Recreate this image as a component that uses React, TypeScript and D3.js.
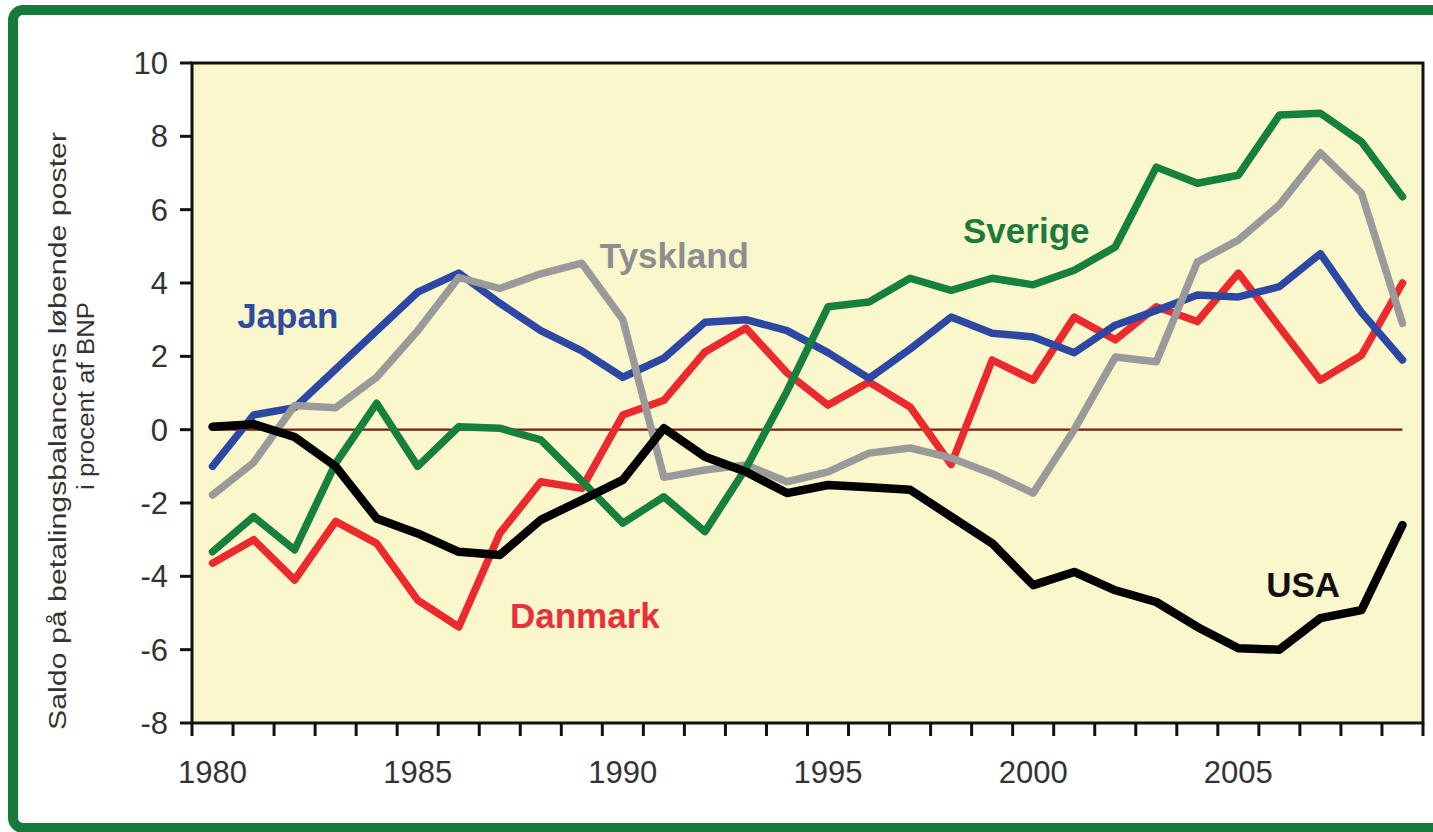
import * as d3 from "d3";

const years = [
  1980, 1981, 1982, 1983, 1984, 1985, 1986, 1987, 1988, 1989,
  1990, 1991, 1992, 1993, 1994, 1995, 1996, 1997, 1998, 1999,
  2000, 2001, 2002, 2003, 2004, 2005, 2006, 2007, 2008, 2009,
];
const yearLabels = [1980, 1985, 1990, 1995, 2000, 2005];
const yTicks = [-8, -6, -4, -2, 0, 2, 4, 6, 8, 10];

const danmark = [
  -3.64, -3.0, -4.1, -2.5, -3.1, -4.65, -5.38, -2.83, -1.42, -1.6,
  0.4, 0.8, 2.12, 2.77, 1.55, 0.67, 1.3, 0.62, -0.95, 1.9,
  1.35, 3.07, 2.45, 3.35, 2.95, 4.27, 2.8, 1.35, 2.03, 4.0,
];
const japan = [
  -1.0, 0.4, 0.6, 1.65, 2.7, 3.75, 4.27, 3.45, 2.7, 2.15,
  1.43, 1.95, 2.93, 3.0, 2.7, 2.1, 1.4, 2.2, 3.07, 2.63,
  2.53, 2.1, 2.85, 3.25, 3.67, 3.62, 3.9, 4.8, 3.2, 1.9,
];
const tyskland = [
  -1.78, -0.9, 0.66, 0.6, 1.43, 2.7, 4.15, 3.85, 4.25, 4.54,
  3.0, -1.3, -1.1, -0.96, -1.42, -1.15, -0.64, -0.5, -0.77, -1.2,
  -1.73, 0.0, 1.98, 1.85, 4.57, 5.17, 6.13, 7.55, 6.45, 2.9,
];
const sverige = [
  -3.33, -2.37, -3.28, -0.92, 0.72, -1.0, 0.08, 0.04, -0.28, -1.4,
  -2.55, -1.83, -2.78, -1.05, 1.05, 3.35, 3.48, 4.13, 3.8, 4.13,
  3.95, 4.35, 4.98, 7.16, 6.72, 6.94, 8.58, 8.63, 7.85, 6.35,
];
const usa = [
  0.08, 0.15, -0.2, -1.0, -2.42, -2.83, -3.33, -3.42, -2.46, -1.92,
  -1.37, 0.04, -0.74, -1.15, -1.73, -1.51, -1.57, -1.64, -2.37, -3.1,
  -4.24, -3.88, -4.38, -4.7, -5.38, -5.96, -6.0, -5.14, -4.92, -2.6,
];
const zeroLine = years.map(() => 0);

const series = [
  { name: "Danmark", values: danmark, color: "#ec2a2e", width: 7.5 },
  { name: "Japan", values: japan, color: "#2c48a4", width: 7.5 },
  { name: "Tyskland", values: tyskland, color: "#9a9a9a", width: 7.5 },
  { name: "Sverige", values: sverige, color: "#16803c", width: 7.5 },
  { name: "USA", values: usa, color: "#000000", width: 8.5 },
];

// label anchors (year, value) for the inline series names
const seriesLabels = [
  { text: "Japan", year: 1980.6, value: 2.77, color: "#2f4c9f" },
  { text: "Tyskland", year: 1989.44, value: 4.4, color: "#8e8e8e" },
  { text: "Sverige", year: 1998.29, value: 5.1, color: "#1c7b3c" },
  { text: "Danmark", year: 1987.25, value: -5.41, color: "#e8303a" },
  { text: "USA", year: 2005.68, value: -4.57, color: "#111111" },
];

const W = 1433;
const H = 832;
const left = 192;
const right = 1423;
const top = 63;
const bottom = 723;

export default function App() {
  const x = d3.scaleBand<number>().domain(years).range([left, right]).padding(0);
  const bw = x.bandwidth();
  const cx = (yr: number) => x(yr)! + bw / 2;
  const xYear = d3
    .scaleLinear()
    .domain([years[0], years[years.length - 1]])
    .range([cx(years[0]), cx(years[years.length - 1])]);
  const y = d3.scaleLinear().domain([-8, 10]).range([bottom, top]);

  const line = d3
    .line<number>()
    .x((d, i) => cx(years[i]))
    .y((d) => y(d));

  const font = "'Liberation Sans', Arial, sans-serif";

  return (
    <svg
      width={W}
      height={H}
      style={{ position: "absolute", left: 0, top: 0, background: "#fff" }}
      fontFamily={font}
    >
      {/* green frame */}
      <rect
        x={13}
        y={10}
        width={1460}
        height={818}
        rx={10}
        fill="none"
        stroke="#167a3b"
        strokeWidth={10}
      />

      {/* plot area */}
      <rect
        x={left}
        y={top}
        width={right - left}
        height={bottom - top}
        fill="#fbf7cd"
      />

      <path d={line(zeroLine)!} fill="none" stroke="#7a1c10" strokeWidth={2.2} />

      {series.map((s) => (
        <path
          key={s.name}
          d={line(s.values)!}
          fill="none"
          stroke={s.color}
          strokeWidth={s.width}
          strokeLinejoin="round"
          strokeLinecap="round"
        />
      ))}

      {seriesLabels.map((l) => (
        <text
          key={l.text}
          x={xYear(l.year)}
          y={y(l.value)}
          fill={l.color}
          fontSize={35}
          fontWeight="bold"
        >
          {l.text}
        </text>
      ))}

      {/* frame */}
      <rect
        x={left}
        y={top}
        width={right - left}
        height={bottom - top}
        fill="none"
        stroke="#111"
        strokeWidth={3}
      />

      {/* y axis ticks */}
      {yTicks.map((t) => (
        <g key={t}>
          <line x1={left - 12} x2={left} y1={y(t)} y2={y(t)} stroke="#111" strokeWidth={3} />
          <text
            x={168}
            y={y(t)}
            dy="0.36em"
            textAnchor="end"
            fontSize={31}
            fill="#333"
          >
            {t}
          </text>
        </g>
      ))}

      {/* x axis ticks at category boundaries */}
      {[...years.map((yr) => x(yr)!), right].map((px, i) => (
        <line key={i} x1={px} x2={px} y1={bottom} y2={bottom + 13} stroke="#111" strokeWidth={3} />
      ))}
      {yearLabels.map((yr) => (
        <text key={yr} x={cx(yr)} y={783} textAnchor="middle" fontSize={31} fill="#333">
          {yr}
        </text>
      ))}

      {/* y axis title */}
      <text
        transform="translate(66,431) rotate(-90)"
        textAnchor="middle"
        fontSize={23}
        fill="#333"
        textLength={598}
        lengthAdjust="spacingAndGlyphs"
      >
        Saldo på betalingsbalancens løbende poster
      </text>
      <text
        transform="translate(94,396) rotate(-90)"
        textAnchor="middle"
        fontSize={23}
        fill="#333"
        textLength={188}
        lengthAdjust="spacingAndGlyphs"
      >
        i procent af BNP
      </text>
    </svg>
  );
}
